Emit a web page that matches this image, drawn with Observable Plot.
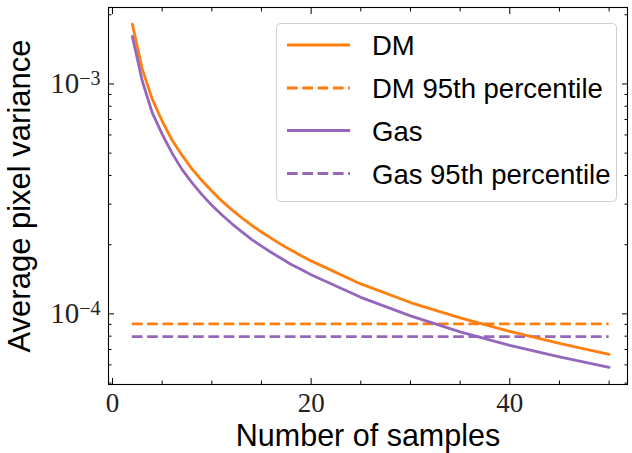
<!DOCTYPE html>
<html><head><meta charset="utf-8">
<script src="https://cdn.jsdelivr.net/npm/d3@7"></script>
<script src="https://cdn.jsdelivr.net/npm/@observablehq/plot@0.6"></script>
<style>body{margin:0;background:#fff} #chart{width:632px;height:453px}</style>
</head><body><div id="chart"></div>
<script>
// ---- data ----
const samples     = [2, 3, 4, 5, 6, 7, 8, 9, 10, 11, 12, 13, 14, 15, 16, 17, 18, 19, 20, 25, 30, 35, 40, 45, 50];
const dmVariance  = [1.82e-3, 1.16e-3, 8.6e-4, 6.9e-4, 5.7e-4, 4.9e-4, 4.27e-4, 3.8e-4, 3.42e-4, 3.1e-4, 2.84e-4, 2.62e-4, 2.43e-4, 2.27e-4, 2.13e-4, 2.0e-4, 1.89e-4, 1.79e-4, 1.70e-4, 1.35e-4, 1.12e-4, 9.6e-5, 8.4e-5, 7.45e-5, 6.67e-5];
const gasVariance = [1.61e-3, 1.03e-3, 7.5e-4, 6.05e-4, 5.0e-4, 4.25e-4, 3.72e-4, 3.3e-4, 2.97e-4, 2.7e-4, 2.47e-4, 2.28e-4, 2.11e-4, 1.97e-4, 1.85e-4, 1.74e-4, 1.64e-4, 1.56e-4, 1.48e-4, 1.18e-4, 9.8e-5, 8.35e-5, 7.3e-5, 6.5e-5, 5.85e-5];
const percentileNames  = ["DM", "Gas"];
const percentileValues = [9.05e-5, 7.97e-5];
const legendLabels = ["DM", "DM 95th percentile", "Gas", "Gas 95th percentile"];
const xMajorTicks = [0, 20, 40];
const xMinorTicks = [5, 10, 15, 25, 30, 35, 45, 50];
const yMajorTicks = [1e-4, 1e-3];
const yMinorTicks = [5e-5, 6e-5, 7e-5, 8e-5, 9e-5, 2e-4, 3e-4, 4e-4, 5e-4, 6e-4, 7e-4, 8e-4, 9e-4, 2e-3];
const seriesColors = ["#ff7f0e", "#9467bd"];

// ---- build tables ----
const curves = samples.flatMap((n, i) => [
  {n, v: dmVariance[i], s: "DM"},
  {n, v: gasVariance[i], s: "Gas"}
]);
const pct = percentileNames.map((s, i) => ({s, v: percentileValues[i], x1: samples[0], x2: samples[samples.length - 1]}));

const serif = "'Liberation Serif', 'DejaVu Serif', serif";
const sans = "'Liberation Sans', Arial, sans-serif";
const blank = () => "";

const plot = Plot.plot({
  width: 632, height: 453,
  marginLeft: 108, marginTop: 7, marginRight: 5, marginBottom: 69,
  style: {fontFamily: serif, background: "white", overflow: "visible"},
  x: {domain: [-0.4, 51.85]},
  y: {type: "log", domain: [4.93e-5, 2.15e-3]},
  color: {domain: percentileNames, range: seriesColors},
  marks: [
    Plot.ruleY(pct, {y: "v", x1: "x1", x2: "x2", stroke: "s", strokeWidth: 2.8, strokeDasharray: "10.7,4.6"}),
    Plot.line(curves, {x: "n", y: "v", stroke: "s", strokeWidth: 2.8}),
    // inward ticks, all four sides
    Plot.axisX(xMajorTicks, {anchor: "bottom", tickSize: -6, tickFormat: blank, label: null}),
    Plot.axisX(xMinorTicks, {anchor: "bottom", tickSize: -3.5, tickFormat: blank, label: null}),
    Plot.axisX(xMajorTicks, {anchor: "top", tickSize: -6, tickFormat: blank, label: null}),
    Plot.axisX(xMinorTicks, {anchor: "top", tickSize: -3.5, tickFormat: blank, label: null}),
    Plot.axisY(yMajorTicks, {anchor: "left", tickSize: -6, tickFormat: blank, label: null}),
    Plot.axisY(yMinorTicks, {anchor: "left", tickSize: -3.5, tickFormat: blank, label: null}),
    Plot.axisY(yMajorTicks, {anchor: "right", tickSize: -6, tickFormat: blank, label: null}),
    Plot.axisY(yMinorTicks, {anchor: "right", tickSize: -3.5, tickFormat: blank, label: null}),
    // tick labels
    Plot.axisX(xMajorTicks, {anchor: "bottom", tickSize: 0, tickPadding: 8, fontSize: 27, fontFamily: serif, label: null, fill: "#222"}),
    Plot.axisY(yMajorTicks, {anchor: "left", tickSize: 0, tickPadding: 8, fontSize: 29, fontFamily: serif, label: null, fill: "#222",
      tickFormat: d => "10^" + Math.round(Math.log10(d))}),
    // axis titles
    Plot.axisX([], {anchor: "bottom", label: "Number of samples", labelAnchor: "center", labelArrow: "none", labelOffset: 61, fontSize: 30.5, fontFamily: sans, fill: "black"}),
    Plot.axisY([], {anchor: "left", label: "Average pixel variance", labelAnchor: "center", labelArrow: "none", labelOffset: 101, fontSize: 31, fontFamily: sans, fill: "black"}),
    Plot.frame({stroke: "black", strokeWidth: 1.1})
  ]
});

// superscript exponents on log tick labels
d3.select(plot).selectAll("g[aria-label='y-axis tick label'] text").each(function () {
  const t = d3.select(this);
  const parts = t.text().split("^");
  if (parts.length !== 2) return;
  t.text(parts[0]);
  t.append("tspan").attr("dy", "-0.4em").attr("font-size", 20).text(parts[1].replace("-", "\u2212"));
});

// legend
const svg = d3.select(plot);
const lg = svg.append("g").attr("font-family", sans).attr("font-size", 27.5).attr("text-anchor", "start");
lg.append("rect").attr("x", 276.5).attr("y", 23.5).attr("width", 340).attr("height", 178)
  .attr("rx", 4).attr("fill", "white").attr("fill-opacity", 0.8).attr("stroke", "#d0d0d0").attr("stroke-width", 1);
const rowsY = [45, 88, 130.5, 173.5];
legendLabels.forEach((lab, i) => {
  const color = seriesColors[i < 2 ? 0 : 1];
  const dashed = i % 2 === 1;
  lg.append("line").attr("x1", 287).attr("x2", 350).attr("y1", rowsY[i]).attr("y2", rowsY[i])
    .attr("stroke", color).attr("stroke-width", 2.8).attr("stroke-dasharray", dashed ? "10.7,4.6" : null);
  lg.append("text").attr("x", 372).attr("y", rowsY[i] + 10).attr("fill", "black").text(lab);
});

document.getElementById("chart").appendChild(plot);
</script>
</body></html>
